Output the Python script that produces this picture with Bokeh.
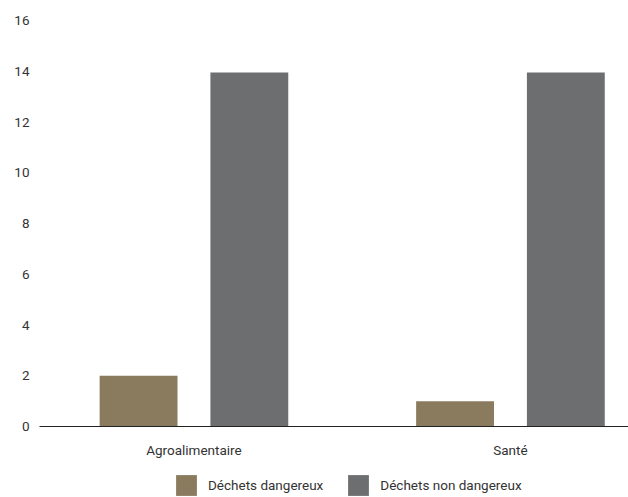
from bokeh.plotting import figure
from bokeh.layouts import column
from bokeh.models import ColumnDataSource, Range1d, FixedTicker, Legend, LegendItem
from bokeh.embed import file_html
from bokeh.resources import INLINE

categories = ["Agroalimentaire", "Santé"]
dangereux = [2.0, 1.0]
non_dangereux = [13.95, 13.95]
series_names = ["Déchets dangereux", "Déchets non dangereux"]
y_ticks = [0, 2, 4, 6, 8, 10, 12, 14, 16]

FONT = "Roboto"
FS = "13.5px"
TXT = "#333333"
C_DANG = "#8B7B5E"
C_NON = "#6D6E70"

pos = list(range(len(categories)))
src = ColumnDataSource(dict(
    x1=[p - 0.175 for p in pos], x2=[p + 0.175 for p in pos],
    d=dangereux, n=non_dangereux))

p = figure(width=628, height=460, output_backend="svg", toolbar_location=None,
           x_range=Range1d(-0.488, 1.373), y_range=Range1d(0, 16),
           min_border_left=39, min_border_right=0, min_border_top=20,
           min_border_bottom=34)
p.outline_line_color = None
p.grid.grid_line_color = None

p.vbar(x="x1", top="d", width=0.246, source=src, color=C_DANG, line_color=None)
p.vbar(x="x2", top="n", width=0.246, source=src, color=C_NON, line_color=None)

p.xaxis.ticker = FixedTicker(ticks=pos)
p.xaxis.major_label_overrides = {i: c for i, c in enumerate(categories)}
p.xaxis.major_tick_line_color = None
p.xaxis.major_tick_out = 0
p.xaxis.major_tick_in = 0
p.xaxis.minor_tick_line_color = None
p.xaxis.axis_line_color = "#222222"
p.xaxis.axis_line_width = 1
p.xaxis.major_label_standoff = 15
p.xaxis.major_label_text_font = FONT
p.xaxis.major_label_text_font_size = FS
p.xaxis.major_label_text_color = TXT

p.yaxis.ticker = FixedTicker(ticks=y_ticks)
p.yaxis.axis_line_color = None
p.yaxis.major_tick_line_color = None
p.yaxis.major_tick_out = 0
p.yaxis.major_tick_in = 0
p.yaxis.minor_tick_line_color = None
p.yaxis.major_label_standoff = 10
p.yaxis.major_label_text_font = FONT
p.yaxis.major_label_text_font_size = FS
p.yaxis.major_label_text_color = TXT

# legend strip (swatch renderers sit outside the visible range)
lg = figure(width=628, height=37, output_backend="svg", toolbar_location=None,
            x_range=Range1d(0, 1), y_range=Range1d(0, 1),
            x_axis_location=None, y_axis_location=None,
            min_border=0, min_border_left=0, min_border_right=0,
            min_border_top=0, min_border_bottom=0)
lg.grid.grid_line_color = None
lg.outline_line_color = None
g1 = lg.vbar(x=[-5], top=[-5], width=0.1, color=C_DANG, line_color=None)
g2 = lg.vbar(x=[-5], top=[-5], width=0.1, color=C_NON, line_color=None)
legend = Legend(items=[LegendItem(label=series_names[0], renderers=[g1]),
                       LegendItem(label=series_names[1], renderers=[g2])],
                orientation="horizontal", location=(134, -1),
                glyph_width=26, glyph_height=26, label_standoff=9, spacing=22,
                padding=0, margin=0, border_line_color=None,
                label_text_font=FONT, label_text_font_size=FS,
                label_text_color=TXT, background_fill_alpha=0)
lg.add_layout(legend, "center")

layout = column(p, lg, spacing=0)
open("out.html", "w").write(file_html(layout, INLINE))
